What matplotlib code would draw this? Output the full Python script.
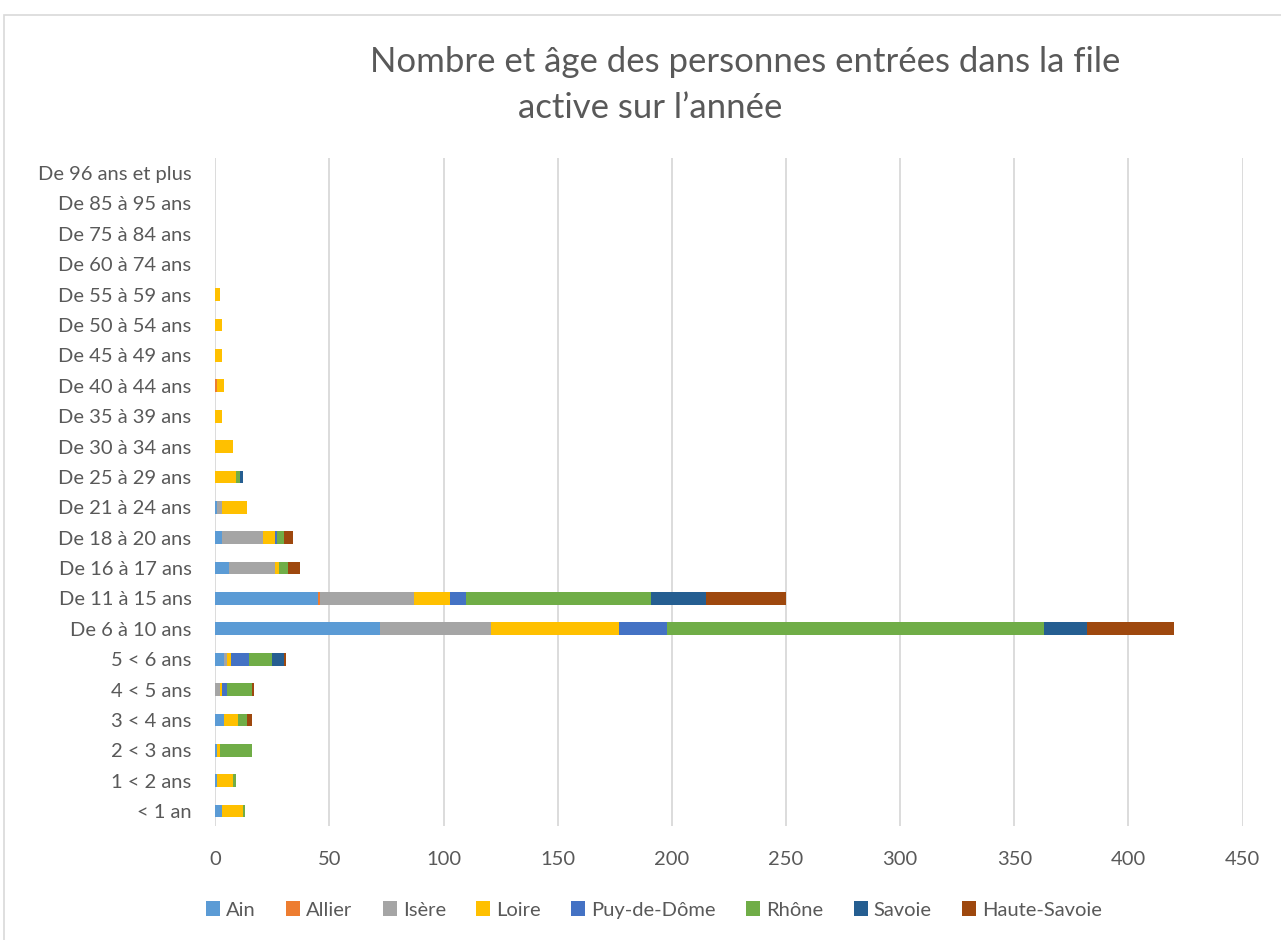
import numpy as np
import matplotlib
matplotlib.use("Agg")
import matplotlib.pyplot as plt
from matplotlib.patches import Rectangle

plt.rcParams['font.family'] = ['Lato', 'DejaVu Sans']

# categories, bottom to top
ages = ["< 1 an", "1 < 2 ans", "2 < 3 ans", "3 < 4 ans", "4 < 5 ans", "5 < 6 ans",
        "De 6 à 10 ans", "De 11 à 15 ans", "De 16 à 17 ans", "De 18 à 20 ans",
        "De 21 à 24 ans", "De 25 à 29 ans", "De 30 à 34 ans", "De 35 à 39 ans",
        "De 40 à 44 ans", "De 45 à 49 ans", "De 50 à 54 ans", "De 55 à 59 ans",
        "De 60 à 74 ans", "De 75 à 84 ans", "De 85 à 95 ans", "De 96 ans et plus"]

departements = ["Ain", "Allier", "Isère", "Loire", "Puy-de-Dôme", "Rhône", "Savoie", "Haute-Savoie"]
colors = ["#5B9BD5", "#ED7D31", "#A5A5A5", "#FFC000", "#4472C4", "#70AD47", "#255E91", "#9E480E"]

ain          = [3, 1, 1, 4, 0, 4, 72, 45, 6, 3, 1, 0, 0, 0, 0, 0, 0, 0, 0, 0, 0, 0]
allier       = [0, 0, 0, 0, 0, 0, 0, 1, 0, 0, 0, 0, 0, 0, 1, 0, 0, 0, 0, 0, 0, 0]
isere        = [0, 0, 0, 0, 2, 1, 49, 41, 20, 18, 2, 0, 0, 0, 0, 0, 0, 0, 0, 0, 0, 0]
loire        = [9, 7, 1, 6, 1, 2, 56, 16, 2, 5, 11, 9, 8, 3, 3, 3, 3, 2, 0, 0, 0, 0]
puy_de_dome  = [0, 0, 0, 0, 2, 8, 21, 7, 0, 1, 0, 0, 0, 0, 0, 0, 0, 0, 0, 0, 0, 0]
rhone        = [1, 1, 14, 4, 11, 10, 165, 81, 4, 3, 0, 2, 0, 0, 0, 0, 0, 0, 0, 0, 0, 0]
savoie       = [0, 0, 0, 0, 0, 5, 19, 24, 0, 0, 0, 1, 0, 0, 0, 0, 0, 0, 0, 0, 0, 0]
haute_savoie = [0, 0, 0, 2, 1, 1, 38, 35, 5, 4, 0, 0, 0, 0, 0, 0, 0, 0, 0, 0, 0, 0]

series = [ain, allier, isere, loire, puy_de_dome, rhone, savoie, haute_savoie]

fig = plt.figure(figsize=(12.81, 9.40), dpi=100)
ax = fig.add_axes([0.168, 0.121, 0.802, 0.711])

# light outer frame of the chart area
fig.patches.append(Rectangle((4 / 1281, -0.1), 1.2, 1.1 - 15 / 940, transform=fig.transFigure,
                             fill=False, edgecolor="#D9D9D9", linewidth=1.2))

y = np.arange(len(ages))
left = np.zeros(len(ages))
for name, vals, c in zip(departements, series, colors):
    vals = np.array(vals, dtype=float)
    ax.barh(y, vals, left=left, height=0.42, color=c, label=name, zorder=3)
    left += vals

ax.set_xlim(0, 450)
ax.set_ylim(-0.5, len(ages) - 0.5)
ax.set_xticks(np.arange(0, 451, 50))
ax.set_yticks(y)
ax.set_yticklabels(ages)
ax.tick_params(axis="both", length=0, labelsize=14.5, colors="#595959")
ax.tick_params(axis="x", pad=18)
ax.tick_params(axis="y", pad=17)
ax.grid(axis="x", color="#D9D9D9", linewidth=1.3, zorder=0)
for s in ax.spines.values():
    s.set_visible(False)

fig.text(745 / 1281, 1 - 62 / 940, "Nombre et âge des personnes entrées dans la file",
         ha="center", va="center", fontsize=25, color="#595959")
fig.text(650 / 1281, 1 - 108 / 940, "active sur l\u2019année",
         ha="center", va="center", fontsize=25, color="#595959")

fig.legend(loc="center", bbox_to_anchor=(654 / 1281, 1 - 910 / 940), ncol=8, frameon=False,
           fontsize=14.5, handlelength=0.7, handleheight=0.7, handletextpad=0.3,
           columnspacing=1.5, labelcolor="#595959")

fig.savefig("out.png", dpi=100)
